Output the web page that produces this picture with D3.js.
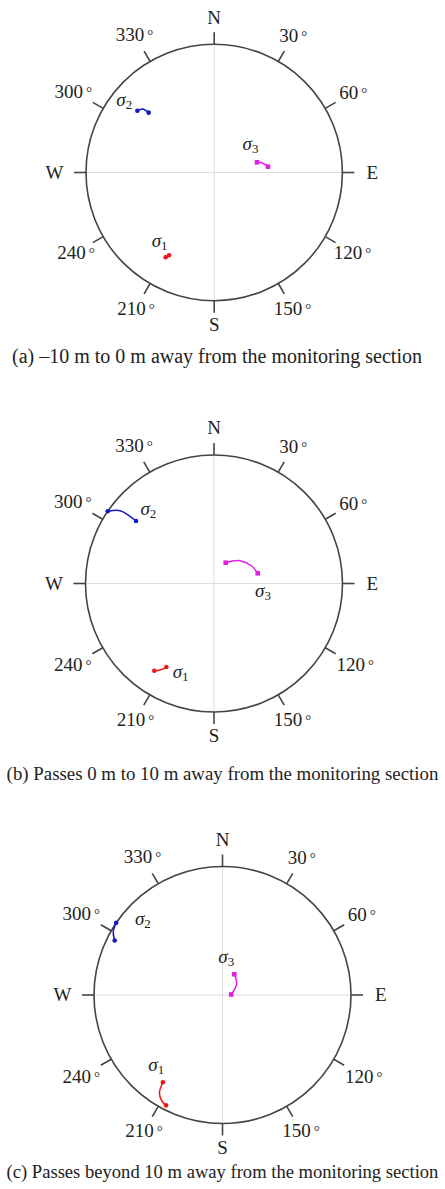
<!DOCTYPE html>
<html>
<head>
<meta charset="utf-8">
<script src="https://cdn.jsdelivr.net/npm/d3@7"></script>
<style>
  html, body { margin: 0; padding: 0; background: #fff; }
  svg { display: block; }
  text { font-family: "Liberation Serif", "Times New Roman", serif; fill: #222; }
</style>
</head>
<body>
<svg id="chart" width="445" height="1189"></svg>
<script>
// Principal stress axis paths on an equal-area, lower-hemisphere net.
// Each vertex is [trend in degrees, plunge in degrees].
const captions = [
  "(a) \u201310 m to 0 m away from the monitoring section",
  "(b) Passes 0 m to 10 m away from the monitoring section",
  "(c) Passes beyond 10 m away from the monitoring section"
];

const sigma1 = [
  [[209.8, 24.8], [208.6, 27.3]],
  [[214.4, 18.9], [212.0, 21.7], [209.7, 26.1]],
  [[214.3, 18.9], [212.7, 10.0], [209.4, 5.2], [207.1, 4.0]]
];
const sigma2 = [
  [[308.8, 24.1], [311.6, 26.3], [312.4, 31.4]],
  [[304.2, 0.0], [307.8, 8.3], [308.6, 15.7], [308.7, 23.3]],
  [[304.2, 0.0], [300.1, 2.0], [296.8, 6.7]]
];
const sigma3 = [
  [[76.6, 61.9], [78.9, 58.5], [83.8, 55.3]],
  [[29.4, 74.9], [48.7, 68.1], [65.1, 63.6], [76.9, 61.4]],
  [[29.7, 74.9], [52.2, 78.7], [86.7, 84.5]]
];
const seriesSubscripts = ["1", "2", "3"];

const tickAngles = [0, 30, 60, 90, 120, 150, 180, 210, 240, 270, 300, 330];
const tickLabels = ["N", "30", "60", "E", "120", "150", "S", "210", "240", "W", "300", "330"];

// ---- layout & styling ----
const panels = [
  { cx: 214.2, cy: 172.5, r: 128.2, capY: 363 },
  { cx: 214.0, cy: 583.5, r: 128.5, capY: 780 },
  { cx: 222.5, cy: 995.0, r: 128.5, capY: 1178 }
];
// σ label offset [dx, dy] from the first vertex of each path, per panel
const labelOffsets = [
  [[-14, -10.5], [-21, -4.5], [-14.5, -12]],
  [[18.4, 7.3], [32.7, 4], [29.3, 34.3]],
  [[-14.7, -11.3], [18.7, 2.3], [-16, -11.3]]
];
const colors = ["#ee1515", "#1414c8", "#e020e0"];
const frameColor = "#444";
const tickLen = 12;
const labelSize = 19;
const pageWidth = 445;
const captionSize = 20;
const captionMaxWidth = 432;

const svg = d3.select("#chart");

panels.forEach((P, pi) => {
  const g = svg.append("g");

  const proj = d3.geoAzimuthalEqualArea()
    .rotate([0, -90])
    .scale(P.r / Math.SQRT2)
    .translate([P.cx, P.cy]);
  // trend measured clockwise from north -> longitude in this polar view
  const place = ([trend, plunge]) => proj([180 - trend, plunge]);

  // cross-hair
  [[0, 180], [90, 270]].forEach(([a, b]) => {
    const p0 = place([a, 0]), p1 = place([b, 0]);
    g.append("line")
      .attr("x1", p0[0]).attr("y1", p0[1])
      .attr("x2", p1[0]).attr("y2", p1[1])
      .attr("stroke", "#dcdcdc").attr("stroke-width", 1);
  });

  // primitive circle
  const rim = place([90, 0]);
  const radius = Math.hypot(rim[0] - P.cx, rim[1] - P.cy);
  g.append("circle")
    .attr("cx", P.cx).attr("cy", P.cy).attr("r", radius)
    .attr("fill", "none").attr("stroke", frameColor).attr("stroke-width", 1.6);

  // azimuth ticks and labels
  tickAngles.forEach((a, i) => {
    const p = place([a, 0]);
    const ux = (p[0] - P.cx) / radius, uy = (p[1] - P.cy) / radius;
    g.append("line")
      .attr("x1", p[0]).attr("y1", p[1])
      .attr("x2", p[0] + ux * tickLen).attr("y2", p[1] + uy * tickLen)
      .attr("stroke", frameColor).attr("stroke-width", 1.6);

    const t = g.append("text")
      .attr("font-size", labelSize)
      .attr("text-anchor", "middle");
    const lab = tickLabels[i];
    t.append("tspan").text(lab);
    if (/^\d+$/.test(lab)) {
      t.append("tspan").attr("dx", 3).attr("font-size", 15).attr("dy", -1).text("\u00b0");
    }
    const w = t.node().getComputedTextLength();
    const s = Math.abs(Math.sin(a * Math.PI / 180));
    const dist = 27 + 0.25 * w * s - (uy > 0.5 ? 3 : 0);
    const lx = p[0] + ux * dist, ly = p[1] + uy * dist;
    t.attr("x", lx).attr("y", ly + labelSize * 0.34);
  });

  // stress axis paths
  const line = d3.line().curve(d3.curveCatmullRom.alpha(0.5));
  [sigma1[pi], sigma2[pi], sigma3[pi]].forEach((path, si) => {
    const pts = path.map(place);
    const col = colors[si];
    g.append("path")
      .attr("d", line(pts))
      .attr("fill", "none").attr("stroke", col).attr("stroke-width", 1.5);
    [pts[0], pts[pts.length - 1]].forEach(q => {
      if (si === 2) {
        g.append("rect")
          .attr("x", q[0] - 2.3).attr("y", q[1] - 2.3)
          .attr("width", 4.6).attr("height", 4.6)
          .attr("fill", col);
      } else {
        g.append("circle")
          .attr("cx", q[0]).attr("cy", q[1]).attr("r", 2.3)
          .attr("fill", col);
      }
    });

    const off = labelOffsets[pi][si];
    const lt = g.append("text")
      .attr("x", pts[0][0] + off[0])
      .attr("y", pts[0][1] + off[1])
      .attr("font-size", 19);
    lt.append("tspan").attr("font-style", "italic").text("\u03c3");
    lt.append("tspan").attr("font-size", 13).attr("dy", 3).text(seriesSubscripts[si]);
  });

  // caption, set smaller if it would overrun the page width
  const cap = g.append("text")
    .attr("x", 217).attr("y", P.capY)
    .attr("text-anchor", "middle")
    .attr("font-size", captionSize)
    .text(captions[pi]);
  const cw = cap.node().getComputedTextLength();
  if (cw > captionMaxWidth) {
    cap.attr("x", pageWidth / 2)
      .attr("font-size", captionSize * captionMaxWidth / cw);
  }
});
</script>
</body>
</html>
